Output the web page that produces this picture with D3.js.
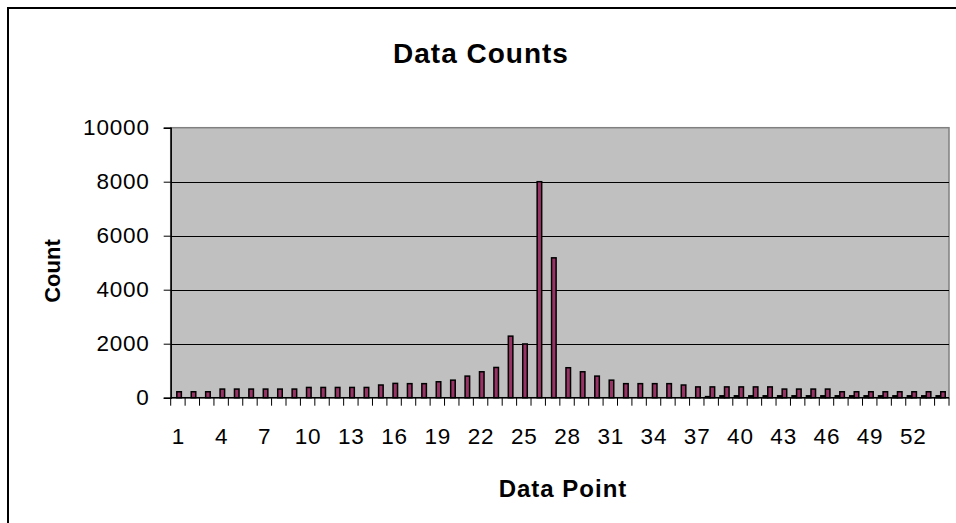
<!DOCTYPE html>
<html>
<head>
<meta charset="utf-8">
<script src="https://cdn.jsdelivr.net/npm/d3@7"></script>
<style>
  html, body { margin: 0; padding: 0; background: #fff; }
  svg { display: block; font-family: "Liberation Sans", Arial, sans-serif; }
</style>
</head>
<body>
<svg id="chart" width="956" height="523"></svg>
<script>
// Data point indices along the x axis
const categories = [1, 2, 3, 4, 5, 6, 7, 8, 9, 10, 11, 12, 13, 14, 15, 16, 17, 18,
  19, 20, 21, 22, 23, 24, 25, 26, 27, 28, 29, 30, 31, 32, 33, 34, 35, 36,
  37, 38, 39, 40, 41, 42, 43, 44, 45, 46, 47, 48, 49, 50, 51, 52, 53, 54];

// Secondary count series (drawn first in each cluster)
const minorCounts = [0, 0, 0, 0, 0, 0, 0, 0, 0, 0, 0, 0, 0, 0, 0, 0, 0, 0,
  0, 0, 0, 0, 0, 0, 0, 0, 0, 0, 0, 0, 0, 0, 0, 0, 0, 0,
  0, 40, 70, 70, 70, 70, 70, 70, 70, 70, 70, 70, 70, 70, 70, 70, 70, 70];

// Main count series
const counts = [220, 220, 220, 320, 320, 320, 320, 320, 320, 380, 380, 380, 380, 380, 470, 530, 520, 520,
  590, 650, 800, 960, 1120, 2280, 1990, 8000, 5180, 1110, 960, 800, 650, 520, 520, 520, 520, 470,
  400, 400, 400, 400, 400, 400, 320, 320, 320, 320, 220, 220, 220, 220, 220, 220, 220, 220];

const seriesNames = ["minor", "count"];
const seriesColors = { minor: "#000000", count: "#993366" };
const yTicks = [0, 2000, 4000, 6000, 8000, 10000];

const svg = d3.select("#chart");
const W = 956, H = 523;
const plot = { left: 170.7, right: 949, top: 127.7, bottom: 397.7 };

// Outer chart frame
svg.append("rect")
  .attr("x", 8).attr("y", 8)
  .attr("width", W + 20).attr("height", H + 20)
  .attr("fill", "#fff").attr("stroke", "#000").attr("stroke-width", 2);

const x = d3.scaleBand().domain(categories).range([plot.left, plot.right]).padding(0);
const bw = x.bandwidth();
const x1 = d3.scaleBand().domain(seriesNames).range([bw * 0.11, bw * 0.74]).padding(0);
const y = d3.scaleLinear().domain([0, 10000]).range([plot.bottom, plot.top]);

// Plot area
svg.append("rect")
  .attr("x", plot.left).attr("y", plot.top)
  .attr("width", plot.right - plot.left).attr("height", plot.bottom - plot.top)
  .attr("fill", "#c0c0c0").attr("stroke", "#808080").attr("stroke-width", 1.5);

// Gridlines
svg.append("g")
  .selectAll("line")
  .data(yTicks.filter(t => t > 0 && t < 10000))
  .join("line")
  .attr("x1", plot.left).attr("x2", plot.right)
  .attr("y1", d => Math.round(y(d)) + 0.5).attr("y2", d => Math.round(y(d)) + 0.5)
  .attr("stroke", "#000").attr("stroke-width", 1);

// Bars
const rows = categories.map((c, i) => ({ c, minor: minorCounts[i], count: counts[i] }));
const groups = svg.append("g").selectAll("g")
  .data(rows)
  .join("g")
  .attr("transform", d => `translate(${x(d.c)},0)`);

groups.selectAll("rect")
  .data(d => seriesNames.map(k => ({ k, v: d[k] })).filter(e => e.v > 0))
  .join("rect")
  .attr("x", d => x1(d.k))
  .attr("width", x1.bandwidth())
  .attr("y", d => y(d.v))
  .attr("height", d => y(0) - y(d.v))
  .attr("fill", d => seriesColors[d.k])
  .attr("stroke", "#000").attr("stroke-width", 1.5);

// Y axis
const yAxis = d3.axisLeft(y).tickValues(yTicks).tickSize(7).tickPadding(14).tickFormat(d3.format("d"));
const gy = svg.append("g").attr("transform", `translate(${plot.left},0)`).call(yAxis);
gy.select(".domain").attr("stroke", "#000").attr("stroke-width", 1.5);
gy.selectAll(".tick line").attr("stroke", "#000");
gy.selectAll("text").attr("font-size", 22.5).attr("letter-spacing", 0.8)
  .attr("fill", "#000").attr("font-family", "Liberation Sans, Arial, sans-serif");

// X axis: ticks on category boundaries, labels every third point
const gx = svg.append("g").attr("transform", `translate(0,${plot.bottom})`);
gx.append("line").attr("x1", plot.left).attr("x2", plot.right)
  .attr("stroke", "#000").attr("stroke-width", 1.5);
gx.selectAll(".xt")
  .data(categories.concat([null]))
  .join("line")
  .attr("class", "xt")
  .attr("x1", (d, i) => plot.left + i * bw).attr("x2", (d, i) => plot.left + i * bw)
  .attr("y1", 0).attr("y2", 8)
  .attr("stroke", "#000");
gx.selectAll(".xl")
  .data(categories.filter((d, i) => i % 3 === 0))
  .join("text")
  .attr("class", "xl")
  .attr("x", d => x(d) + bw / 2 + 0.4)
  .attr("y", 46)
  .attr("text-anchor", "middle")
  .attr("font-size", 22.5)
  .attr("letter-spacing", 0.8)
  .text(d => d);

// Titles
svg.append("text").attr("x", 481).attr("y", 63).attr("text-anchor", "middle")
  .attr("font-weight", "bold").attr("font-size", 28).attr("letter-spacing", 1)
  .text("Data Counts");
svg.append("text").attr("x", 563).attr("y", 497).attr("text-anchor", "middle")
  .attr("font-weight", "bold").attr("font-size", 24).attr("letter-spacing", 1)
  .text("Data Point");
svg.append("text").attr("transform", "translate(60,271) rotate(-90)").attr("text-anchor", "middle")
  .attr("font-weight", "bold").attr("font-size", 22).text("Count");
</script>
</body>
</html>
